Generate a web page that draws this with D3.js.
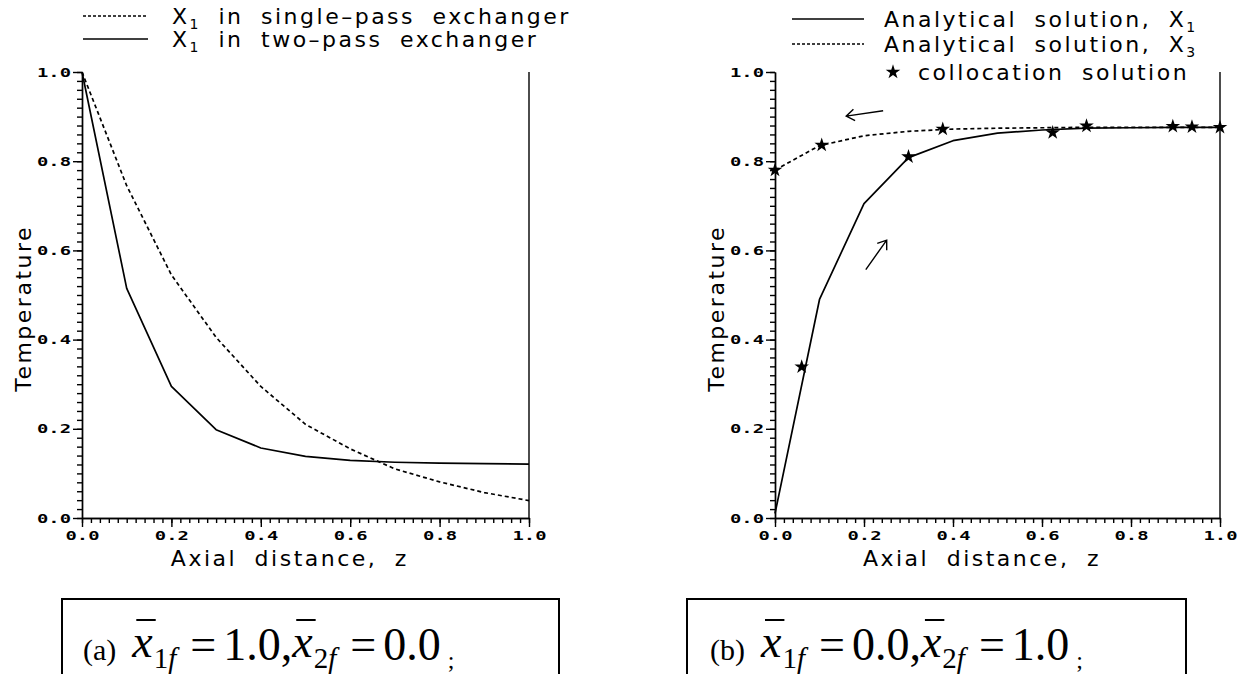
<!DOCTYPE html>
<html>
<head>
<meta charset="utf-8">
<script src="https://cdn.jsdelivr.net/npm/d3@7"></script>
<style>
  html, body { margin: 0; padding: 0; background: #fff; }
  svg { display: block; }
  .tick text { font-family: "DejaVu Sans Mono", monospace; font-size: 13px; font-weight: bold; fill: #000; }
  .axis path, .axis line { stroke: #000; stroke-width: 1.4px; }
  .lbl { font-family: "DejaVu Sans", sans-serif; font-size: 22px; letter-spacing: 2.5px; word-spacing: 8px; fill: #000; }
  .cap { font-family: "Liberation Serif", "Times New Roman", serif; fill: #000; }
</style>
</head>
<body>
<svg id="fig" width="1246" height="674"></svg>
<script>
// Axial positions at which the analytical profiles are tabulated
const zGrid = [0, 0.1, 0.2, 0.3, 0.4, 0.5, 0.6, 0.7, 0.8, 0.9, 1.0];

// Panel (a): x1f = 1.0, x2f = 0.0
const singlePassX1 = [1.0, 0.745, 0.545, 0.405, 0.295, 0.21, 0.155, 0.11, 0.081, 0.057, 0.039];
const twoPassX1    = [1.0, 0.515, 0.295, 0.198, 0.157, 0.138, 0.129, 0.125, 0.123, 0.122, 0.121];

// Panel (b): x1f = 0.0, x2f = 1.0
const analyticX1 = [0.01, 0.49, 0.705, 0.808, 0.846, 0.863, 0.870, 0.874, 0.875, 0.876, 0.876];
const analyticX3 = [0.78, 0.835, 0.857, 0.867, 0.872, 0.874, 0.875, 0.876, 0.876, 0.876, 0.876];
const collocZ    = [0, 0.06, 0.105, 0.30, 0.377, 0.624, 0.70, 0.894, 0.937, 1.0];
const collocT    = [0.780, 0.339, 0.836, 0.810, 0.872, 0.864, 0.879, 0.878, 0.877, 0.876];

// Flow-direction arrows in panel (b), in data units [z, temperature]
const arrowX1 = { from: [0.204, 0.557], to: [0.251, 0.623] };
const arrowX3 = { from: [0.243, 0.913], to: [0.160, 0.901] };

// Axis ticks
const majorTicks = [0, 0.2, 0.4, 0.6, 0.8, 1.0];
const tickLabels = ["0.0", "0.2", "0.4", "0.6", "0.8", "1.0"];
const minorTicks = d3.range(0, 51).map(i => i / 50);

// Legend entries and captions
const legendA = [
  { style: "dashed", main: "X", sub: "1", rest: " in single\u2013pass exchanger" },
  { style: "solid",  main: "X", sub: "1", rest: " in two\u2013pass exchanger" }
];
const legendB = [
  { style: "solid",  main: "Analytical solution, X", sub: "1", rest: "" },
  { style: "dashed", main: "Analytical solution, X", sub: "3", rest: "" },
  { style: "star",   main: "collocation solution", sub: "", rest: "" }
];
const captions = [
  { tag: "(a)", v1: "1.0", v2: "0.0" },
  { tag: "(b)", v1: "0.0", v2: "1.0" }
];

const svg = d3.select("#fig");
const TOP = 72, BOTTOM = 518;
const DASH = "4,3";
const STRETCH = 1.45;   // wide plotter-style digits on the tick labels

function panel(x0, x1) {
  const g = svg.append("g");
  const x = d3.scaleLinear().domain([0, 1]).range([x0, x1]);
  const y = d3.scaleLinear().domain([0, 1]).range([BOTTOM, TOP]);

  // minor ticks
  g.append("g").attr("class", "axis").attr("transform", `translate(${x0},0)`)
    .call(d3.axisLeft(y).tickValues(minorTicks).tickSize(5).tickSizeOuter(0).tickFormat(""));
  g.append("g").attr("class", "axis").attr("transform", `translate(0,${BOTTOM})`)
    .call(d3.axisBottom(x).tickValues(minorTicks).tickSize(5).tickSizeOuter(0).tickFormat(""));
  // major ticks with labels
  const ya = g.append("g").attr("class", "axis").attr("transform", `translate(${x0},0)`)
    .call(d3.axisLeft(y).tickValues(majorTicks).tickSize(9).tickSizeOuter(0).tickPadding(2)
      .tickFormat((d, i) => tickLabels[i]));
  const xa = g.append("g").attr("class", "axis").attr("transform", `translate(0,${BOTTOM})`)
    .call(d3.axisBottom(x).tickValues(majorTicks).tickSize(9).tickSizeOuter(0).tickPadding(4)
      .tickFormat((d, i) => tickLabels[i]));
  g.selectAll(".axis").attr("font-family", null).attr("font-size", null);
  ya.selectAll(".tick text").attr("x", -11 / STRETCH).attr("transform", `scale(${STRETCH},1)`);
  xa.selectAll(".tick text").attr("transform", `scale(${STRETCH},1)`);

  // right-hand frame line
  g.append("line").attr("x1", x(1)).attr("x2", x(1)).attr("y1", y(1)).attr("y2", BOTTOM)
    .attr("stroke", "#000").attr("stroke-width", 1.4);

  // axis titles
  g.append("text").attr("class", "lbl").attr("text-anchor", "middle")
    .attr("x", x(0.465)).attr("y", 566).text("Axial distance, z");
  g.append("text").attr("class", "lbl").attr("text-anchor", "middle")
    .attr("transform", `translate(${x0 - 51},${y(0.47)}) rotate(-90)`).text("Temperature");
  return { g, x, y };
}

function curve(p, zs, vs, dashed) {
  const line = d3.line().x(d => p.x(d[0])).y(d => p.y(d[1]));
  p.g.append("path").datum(d3.zip(zs, vs)).attr("d", line)
    .attr("fill", "none").attr("stroke", "#000").attr("stroke-width", 1.7)
    .attr("stroke-linejoin", "round")
    .attr("stroke-dasharray", dashed ? DASH : null);
}

function arrow(p, a) {
  const fx = p.x(a.from[0]), fy = p.y(a.from[1]);
  const tx = p.x(a.to[0]), ty = p.y(a.to[1]);
  const ang = Math.atan2(fy - ty, fx - tx);
  const L = 10, spread = 0.62;
  const b1 = [tx + L * Math.cos(ang + spread), ty + L * Math.sin(ang + spread)];
  const b2 = [tx + L * Math.cos(ang - spread), ty + L * Math.sin(ang - spread)];
  p.g.append("path")
    .attr("d", `M${fx},${fy}L${tx},${ty}M${b1[0]},${b1[1]}L${tx},${ty}L${b2[0]},${b2[1]}`)
    .attr("fill", "none").attr("stroke", "#000").attr("stroke-width", 1.4);
}

const star = d3.symbol().type(d3.symbolStar).size(66);

function legend(entries, rowsY, lineX0, lineX1, textX, starX, starTextX) {
  entries.forEach((e, i) => {
    const yy = rowsY[i];
    if (e.style === "star") {
      svg.append("path").attr("d", star()).attr("transform", `translate(${starX},${yy})`).attr("fill", "#000");
    } else {
      svg.append("line").attr("x1", lineX0).attr("x2", lineX1).attr("y1", yy).attr("y2", yy)
        .attr("stroke", "#000").attr("stroke-width", 1.3)
        .attr("stroke-dasharray", e.style === "dashed" ? "3,2" : null);
    }
    const t = svg.append("text").attr("class", "lbl")
      .attr("x", e.style === "star" ? starTextX : textX).attr("y", yy + 8);
    t.append("tspan").text(e.main);
    if (e.sub) {
      t.append("tspan").attr("font-size", 14).attr("dy", 5).text(e.sub);
      if (e.rest) t.append("tspan").attr("dy", -5).text(e.rest);
    }
  });
}

function caption(bx0, bx1, tx, c) {
  svg.append("rect").attr("x", bx0).attr("y", 599).attr("width", bx1 - bx0).attr("height", 120)
    .attr("fill", "none").attr("stroke", "#000").attr("stroke-width", 2);
  const F = 46, S = 29;
  const t = svg.append("text").attr("class", "cap").attr("x", tx).attr("y", 660);
  t.append("tspan").attr("font-size", 30).text(c.tag);
  const xa = t.append("tspan").attr("font-size", F).attr("font-style", "italic").attr("dx", 16).attr("dy", -3).text("x");
  t.append("tspan").attr("font-size", S).attr("dy", 11).attr("dx", 1).text("1");
  t.append("tspan").attr("font-size", S).attr("font-style", "italic").text("f");
  t.append("tspan").attr("font-size", F).attr("dy", -8).attr("dx", 14).text("=");
  t.append("tspan").attr("font-size", F).attr("dx", 7).text(c.v1 + ",");
  const xb = t.append("tspan").attr("font-size", F).attr("font-style", "italic").attr("dy", -3).text("x");
  t.append("tspan").attr("font-size", S).attr("dy", 11).attr("dx", 1).text("2");
  t.append("tspan").attr("font-size", S).attr("font-style", "italic").text("f");
  t.append("tspan").attr("font-size", F).attr("dy", -8).attr("dx", 14).text("=");
  t.append("tspan").attr("font-size", F).attr("dx", 7).text(c.v2);
  t.append("tspan").attr("font-size", 24).attr("dy", 8).attr("dx", 7).text(";");
  // overbars on the mean-composition symbols
  [xa, xb].forEach(s => {
    const n = s.node();
    const a = n.getStartPositionOfChar(0).x, b = n.getEndPositionOfChar(0).x;
    svg.append("line").attr("x1", a + 4).attr("x2", b + 3).attr("y1", 620).attr("y2", 620)
      .attr("stroke", "#000").attr("stroke-width", 2);
  });
}

// Panel (a)
const pa = panel(82, 529);
curve(pa, zGrid, singlePassX1, true);
curve(pa, zGrid, twoPassX1, false);
legend(legendA, [16, 39], 83, 148, 172);

// Panel (b)
const pb = panel(775, 1220);
curve(pb, zGrid, analyticX3, true);
curve(pb, zGrid, analyticX1, false);
pb.g.selectAll(".colloc").data(d3.zip(collocZ, collocT)).join("path")
  .attr("class", "colloc").attr("d", star())
  .attr("transform", d => `translate(${pb.x(d[0])},${pb.y(d[1])})`).attr("fill", "#000");
arrow(pb, arrowX1);
arrow(pb, arrowX3);
legend(legendB, [19, 44, 72], 792, 864, 884, 893, 918);

// Captions
caption(62, 559, 83, captions[0]);
caption(687, 1186, 710, captions[1]);
</script>
</body>
</html>
